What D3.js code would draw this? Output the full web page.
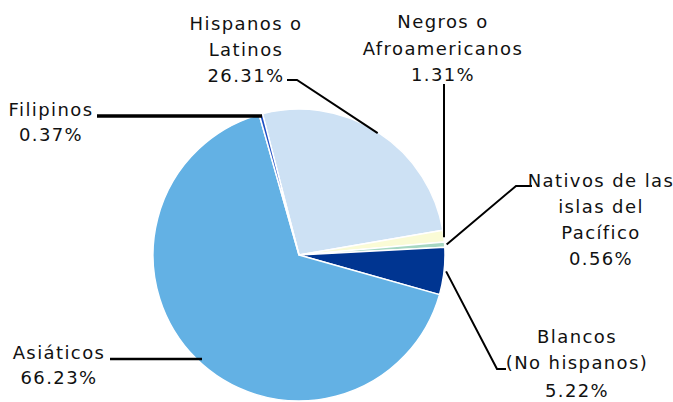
<!DOCTYPE html>
<html>
<head>
<meta charset="utf-8">
<script src="https://cdn.jsdelivr.net/npm/d3@7"></script>
<style>
  html, body { margin: 0; padding: 0; background: #fff; }
  svg text { font-family: "DejaVu Sans", sans-serif; font-size: 18px; fill: #111; letter-spacing: 1.4px; }
</style>
</head>
<body>
<svg id="chart" width="673" height="402"></svg>
<script>
// ---- data ----
const categories = ["Hispanos o Latinos", "Negros o Afroamericanos", "Nativos de las islas del Pacífico", "Blancos (No hispanos)", "Asiáticos", "Filipinos"];
const values = [26.31, 1.31, 0.56, 5.22, 66.23, 0.37];
const valueLabels = ["26.31%", "1.31%", "0.56%", "5.22%", "66.23%", "0.37%"];
const labelLines = [
  ["Hispanos o", "Latinos"],
  ["Negros o", "Afroamericanos"],
  ["Nativos de las", "islas del", "Pacífico"],
  ["Blancos", "(No hispanos)"],
  ["Asiáticos"],
  ["Filipinos"]
];
const colors = ["#CDE1F4", "#FAFBD6", "#A6D7C2", "#003591", "#63B1E4", "#1F4FC4"];

// ---- layout ----
const svg = d3.select("#chart");
const cx = 299, cy = 255, R = 146;
const deg = Math.PI / 180;

const pie = d3.pie().sort(null).value(d => d)
  .startAngle(-14.5 * deg).endAngle(345.5 * deg);
const arcs = pie(values);
const arcGen = d3.arc().innerRadius(0).outerRadius(R);

const g = svg.append("g").attr("transform", `translate(${cx},${cy})`);
g.selectAll("path.slice").data(arcs).enter().append("path")
  .attr("class", "slice")
  .attr("d", arcGen)
  .attr("fill", (d, i) => colors[i])
  .attr("stroke", "#fff")
  .attr("stroke-width", 1.5)
  .attr("stroke-linejoin", "round");

// label layout: text center x, first baseline y, line spacing, leader knee points
const labelLayout = [
  { x: 246, y: 30, dy: 25.5, pctDy: 26, leader: [[287, 80], [297, 80]], sw: 2 },
  { x: 443, y: 28, dy: 26.5, pctDy: 26, leader: [[444, 84]], sw: 2 },
  { x: 601, y: 187, dy: 26, pctDy: 26, leader: [[532, 186], [516, 186]], sw: 2 },
  { x: 577, y: 343, dy: 25.5, pctDy: 28, leader: [[506, 369], [497, 369]], sw: 2 },
  { x: 59, y: 359, dy: 25, pctDy: 25, leader: [[110, 359], [202, 359]], sw: 2.5 },
  { x: 51, y: 116, dy: 25, pctDy: 25, leader: [[97, 116], [262, 116]], sw: 3.5 }
];

function edgePoint(a, r) {
  const ang = (a.startAngle + a.endAngle) / 2;
  return [cx + r * Math.sin(ang), cy - r * Math.cos(ang)];
}

const line = d3.line();
arcs.forEach((a, i) => {
  const L = labelLayout[i];
  const pts = L.leader.slice();
  let end;
  if (i === 1) {
    const e = edgePoint(a, R);
    end = [pts[0][0], e[1] + 1];
  } else if (i === 4 || i === 5) {
    end = pts[pts.length - 1];
    pts.pop();
  } else {
    end = edgePoint(a, R + (i === 0 ? -1 : 2));
  }
  pts.push(end);
  svg.append("path")
    .attr("d", line(pts))
    .attr("fill", "none")
    .attr("stroke", "#000")
    .attr("stroke-width", L.sw);

  const t = svg.append("text").attr("text-anchor", "middle");
  const lines = labelLines[i];
  lines.forEach((s, k) => {
    t.append("tspan").attr("x", L.x).attr("y", L.y + k * L.dy).text(s);
  });
  t.append("tspan").attr("x", L.x)
    .attr("y", L.y + (lines.length - 1) * L.dy + L.pctDy)
    .text(valueLabels[i]);
});
</script>
</body>
</html>
